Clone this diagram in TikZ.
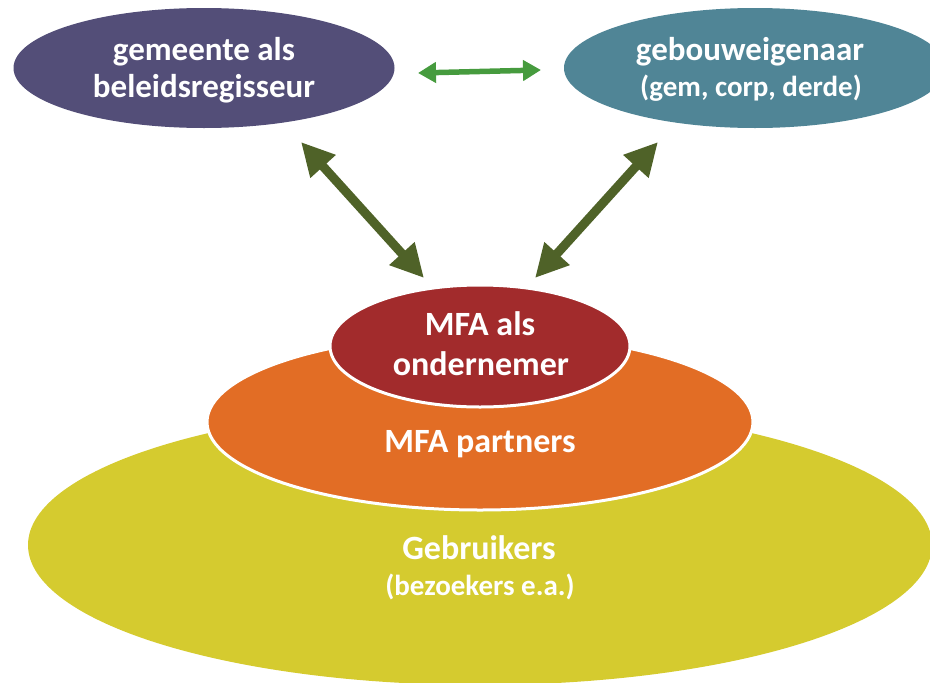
\documentclass[tikz,border=0pt]{standalone}
\usepackage{fontspec}
\setmainfont{Carlito}
\usetikzlibrary{shapes.geometric,arrows.meta}
\definecolor{cPurple}{HTML}{534E78}
\definecolor{cTeal}{HTML}{508596}
\definecolor{cRed}{HTML}{A22B2C}
\definecolor{cOrange}{HTML}{E26D25}
\definecolor{cYellow}{HTML}{D5CB2F}
\definecolor{cDark}{HTML}{4F6228}
\definecolor{cGreen}{HTML}{469B3E}
\begin{document}
\begin{tikzpicture}[x=1pt,y=-1pt,
  ell/.style={ellipse, inner sep=0pt, outer sep=0pt},
  ring/.style={draw=white, line width=3pt},
  lbl/.style={text=white, anchor=base, inner sep=0pt, font=\bfseries\fontsize{33}{38}\selectfont},
  lblb/.style={lbl, font=\bfseries\fontsize{34}{40}\selectfont},
  sublbl/.style={lbl, font=\bfseries\fontsize{29}{34}\selectfont},
  bigarrow/.style={draw=cDark, line width=9pt, {Triangle[length=33pt,width=32pt]}-{Triangle[length=33pt,width=32pt]}},
  smallarrow/.style={draw=cGreen, line width=5.5pt, {Triangle[length=18pt,width=20pt]}-{Triangle[length=18pt,width=20pt]}}]
\useasboundingbox (0,0) rectangle (930,683);
\clip (0,0) rectangle (930,683);
% nested ellipses
\node[ell, fill=cYellow, minimum width=904pt, minimum height=280pt] (users) at (480,545) {};
\node[ell, ring, fill=cOrange, minimum width=546pt, minimum height=176pt] (partners) at (480,422) {};
\node[ell, ring, fill=cRed, minimum width=300pt, minimum height=122pt] (mfa) at (480,346) {};
% top ellipses
\node[ell, fill=cPurple, minimum width=381pt, minimum height=120pt] (gem) at (204,68) {};
\node[ell, fill=cTeal, minimum width=382pt, minimum height=120pt] (eig) at (755,68) {};
% texts
\node[lbl] (t1) at (204,60) {gemeente als};
\node[lbl] (t2) at (204,97) {beleidsregisseur};
\node[lbl] (t3) at (750,60) {gebouweigenaar};
\node[sublbl] (t4) at (751,96) {(gem, corp, derde)};
\node[lblb] (t5) at (480,335) {MFA als};
\node[lblb] (t6) at (481,375) {ondernemer};
\node[lblb] (t7) at (480,452) {MFA partners};
\node[lblb] (t8) at (479,559) {Gebruikers};
\node[sublbl] (t9) at (480,595) {(bezoekers e.a.)};
% arrow end points
\coordinate (g1) at (418,73);
\coordinate (g2) at (541,70);
\coordinate (l1) at (301,142);
\coordinate (l2) at (424,278);
\coordinate (r1) at (658,142);
\coordinate (r2) at (535,278);
\draw[smallarrow] (g1) -- (g2);
\draw[bigarrow] (l1) -- (l2);
\draw[bigarrow] (r1) -- (r2);
\end{tikzpicture}
\end{document}
